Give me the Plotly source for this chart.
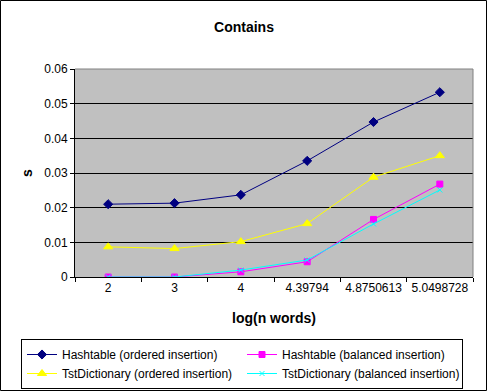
import plotly.graph_objects as go

categories = ["2", "3", "4", "4.39794", "4.8750613", "5.0498728"]
hash_ordered = [0.0210, 0.0213, 0.0237, 0.0335, 0.0447, 0.0533]
hash_balanced = [0.0, 0.0, 0.0015, 0.0044, 0.0166, 0.0268]
tst_ordered = [0.0087, 0.0082, 0.0102, 0.0154, 0.0288, 0.0350]
tst_balanced = [0.0, 0.0, 0.0020, 0.0049, 0.0153, 0.0251]
y_ticks = [0, 0.01, 0.02, 0.03, 0.04, 0.05, 0.06]

W, H = 488, 392
L, R, T, B = 75, 15, 69, 115
pw, ph = W - L - R, H - T - B

font = "Liberation Sans, Arial, sans-serif"

fig = go.Figure()
series = [
    ("Hashtable (ordered insertion)", hash_ordered, "#000080", "diamond", 7),
    ("Hashtable (balanced insertion)", hash_balanced, "#FF00FF", "square", 6),
    ("TstDictionary (ordered insertion)", tst_ordered, "#FFFF00", "triangle-up", 8),
    ("TstDictionary (balanced insertion)", tst_balanced, "#00FFFF", "x-thin-open", 5),
]
for name, vals, col, sym, sz in series:
    fig.add_trace(go.Scatter(
        x=categories, y=vals, name=name, mode="lines+markers",
        line=dict(color=col, width=1),
        marker=dict(symbol=sym, size=sz, color=col, line=dict(color=col, width=1)),
    ))

def px_x(p):
    return (p - L) / pw

def px_y(p):
    return (H - B - p) / ph

fig.update_layout(
    width=W, height=H,
    margin=dict(l=L, r=R, t=T, b=B, pad=0, autoexpand=False),
    paper_bgcolor="white", plot_bgcolor="#C0C0C0",
    font=dict(family=font, size=12, color="black"),
    title=dict(text="<b>Contains</b>", x=0.5, xanchor="center", xref="container",
               y=1 - 27 / H, yanchor="middle", font=dict(size=14)),
    xaxis=dict(type="category", range=[-0.5, 5.5], tickson="boundaries",
               ticks="outside", ticklen=4, tickcolor="black", tickangle=0,
               showline=True, linecolor="black", linewidth=1, automargin=False,
               showgrid=False, zeroline=False,
               title=dict(text="<b>log(n words)</b>", standoff=18)),
    yaxis=dict(range=[0, 0.06], tickvals=y_ticks, ticks="outside", ticklen=4,
               tickcolor="black", showline=True, linecolor="black", linewidth=1,
               showgrid=True, gridcolor="black", gridwidth=1, zeroline=False,
               automargin=False,
               title=dict(text="<b>s</b>", standoff=8)),
    legend=dict(orientation="h", x=px_x(21), y=px_y(339), xanchor="left", yanchor="top",
                entrywidth=175, entrywidthmode="pixels",
                bordercolor="black", borderwidth=1, bgcolor="white",
                font=dict(size=12), tracegroupgap=0, itemwidth=30),
    shapes=[
        dict(type="line", xref="paper", yref="paper", x0=0, x1=1, y0=1, y1=1,
             line=dict(color="#808080", width=1)),
        dict(type="line", xref="paper", yref="paper", x0=1, x1=1, y0=0, y1=1,
             line=dict(color="#808080", width=1)),
        dict(type="rect", xref="paper", yref="paper",
             x0=px_x(0.5), x1=px_x(W - 1.5), y0=px_y(H - 1.5), y1=px_y(0.5),
             line=dict(color="black", width=1)),
    ],
)

fig.write_html("out.html", config={"displayModeBar": False},
               post_script="document.body.style.margin='0';")
